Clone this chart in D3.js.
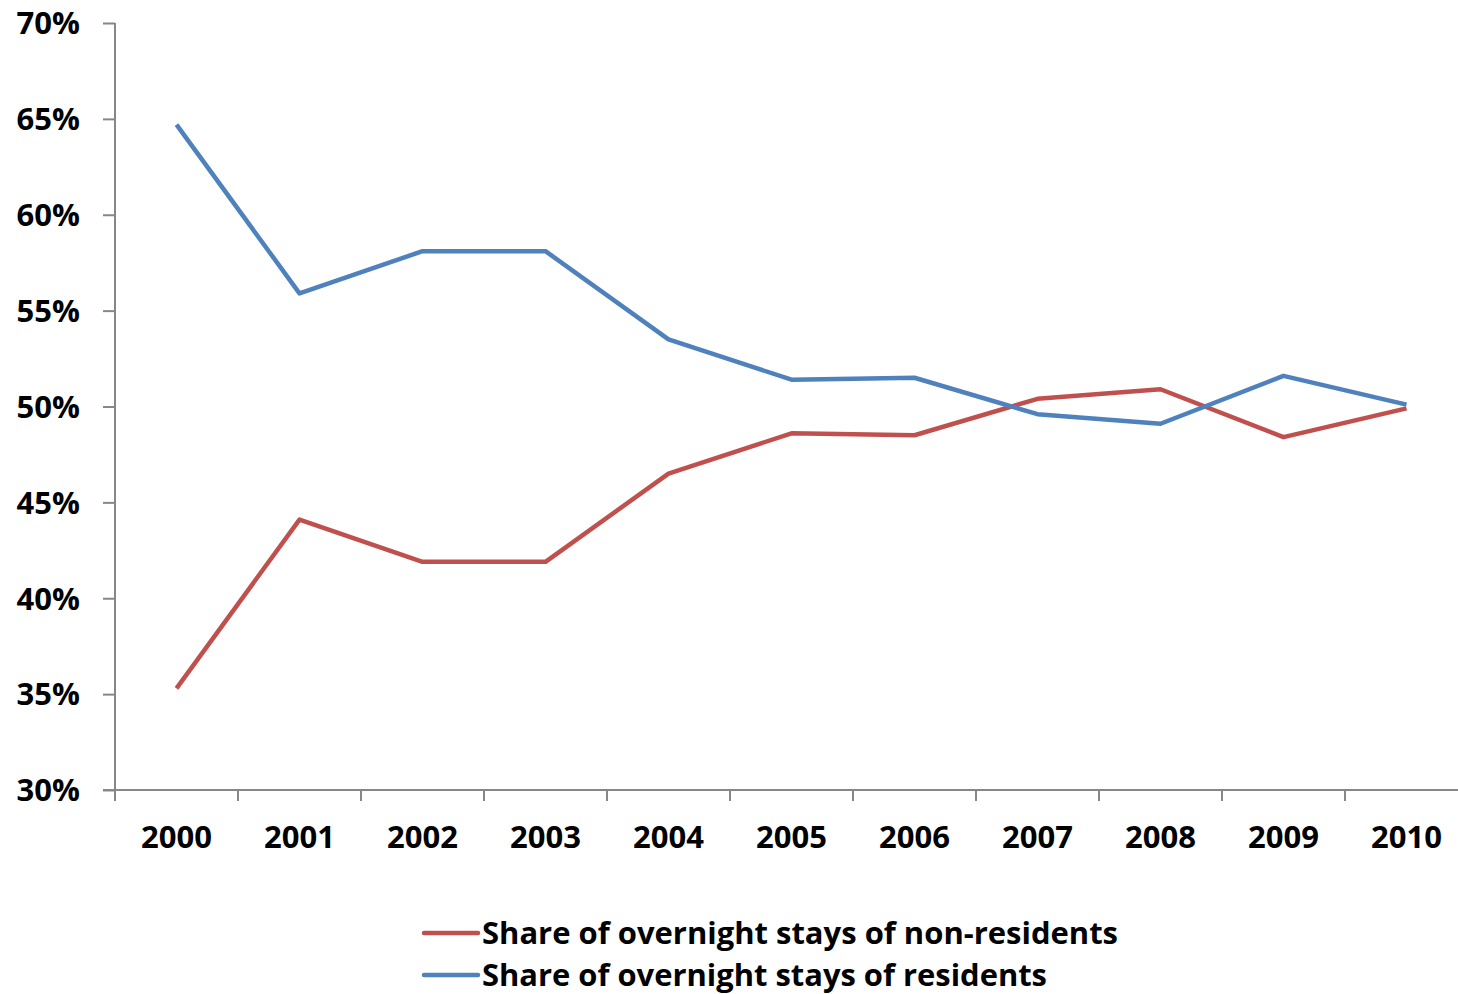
<!DOCTYPE html>
<html><head><meta charset="utf-8">
<script src="https://cdn.jsdelivr.net/npm/d3@7"></script>
<style>html,body{margin:0;padding:0;background:#fff;overflow:hidden}</style>
</head><body>
<svg id="c" width="1458" height="994"></svg>
<script>
const years = ["2000","2001","2002","2003","2004","2005","2006","2007","2008","2009","2010"];
const residents = [64.7, 55.9, 58.1, 58.1, 53.5, 51.4, 51.5, 49.6, 49.1, 51.6, 50.1];
const nonResidents = [35.3, 44.1, 41.9, 41.9, 46.5, 48.6, 48.5, 50.4, 50.9, 48.4, 49.9];
const yTicks = [30, 35, 40, 45, 50, 55, 60, 65, 70];
const seriesNames = ["Share of overnight stays of non-residents", "Share of overnight stays of residents"];

(function(){
const svg = d3.select("#c");
const font = "'Open Sans', 'Liberation Sans', sans-serif";
const mLeft = 115, mRight = 1468, mTop = 23, mBottom = 790;
const axisColor = "#878787";

const x = d3.scaleBand().domain(years).range([mLeft, mRight]).padding(0);
const y = d3.scaleLinear().domain([30, 70]).range([mBottom, mTop]);

// y axis
const ya = svg.append("g").attr("transform", `translate(${mLeft},0)`)
  .call(d3.axisLeft(y).tickValues(yTicks).tickSize(12).tickFormat(d => d + "%"));
ya.select(".domain").attr("stroke", axisColor).attr("stroke-width", 2).attr("d", `M0,${mTop}V${mBottom}`);
ya.selectAll(".tick line").attr("stroke", axisColor).attr("stroke-width", 2);
ya.selectAll(".tick text").attr("x", -35).attr("dy", "0.35em")
  .style("font-family", font).style("font-weight", "bold").style("font-size", "31px").attr("fill", "#000");

// x axis
const xa = svg.append("g").attr("transform", `translate(0,${mBottom})`)
  .call(d3.axisBottom(x).tickSize(0).tickFormat(d => d));
xa.select(".domain").remove();
xa.append("line").attr("x1", mLeft - 12).attr("x2", 1458).attr("y1", 0).attr("y2", 0)
  .attr("stroke", axisColor).attr("stroke-width", 2);
const tickXs = years.map(yv => x(yv)).concat([x(years[years.length-1]) + x.bandwidth()]);
xa.selectAll(".xt").data(tickXs).enter().append("line")
  .attr("x1", d => d).attr("x2", d => d).attr("y1", 0).attr("y2", 11)
  .attr("stroke", axisColor).attr("stroke-width", 2);
xa.selectAll(".tick text").attr("y", 47).attr("dy", "0.35em")
  .style("font-family", font).style("font-weight", "bold").style("font-size", "31px").attr("fill", "#000");

// lines
const line = d3.line().x((d, i) => x(years[i]) + x.bandwidth() / 2).y(d => y(d));
const colors = ["#C0504D", "#4F81BD"];
[nonResidents, residents].forEach((s, k) => {
  svg.append("path").datum(s).attr("d", line).attr("fill", "none")
    .attr("stroke", colors[k]).attr("stroke-width", 4.5).attr("stroke-linejoin", "round");
});

// legend
const lg = svg.append("g");
const legY = [933, 975];
seriesNames.forEach((n, k) => {
  lg.append("line").attr("x1", 424).attr("x2", 478).attr("y1", legY[k]).attr("y2", legY[k])
    .attr("stroke", colors[k]).attr("stroke-width", 4.5).attr("stroke-linecap", "round");
  lg.append("text").attr("x", 482).attr("y", legY[k]).attr("dy", "0.35em")
    .style("font-family", font).style("font-weight", "bold").style("font-size", "31px")
    .attr("fill", "#000").text(n);
});
const targetW = [636, 565];
lg.selectAll("text").each(function(d, i) {
  const w = this.getComputedTextLength();
  if (w > 0) d3.select(this).attr("textLength", targetW[i]).attr("lengthAdjust", "spacingAndGlyphs");
});
})();
</script>
</body></html>
